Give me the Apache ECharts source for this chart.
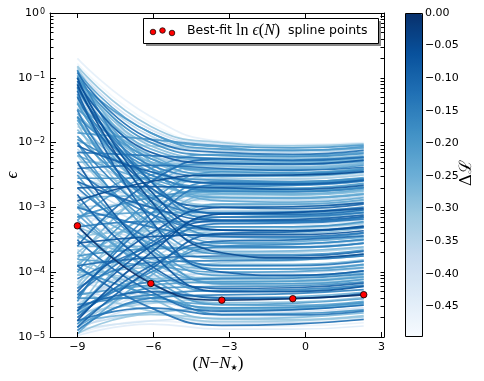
<!DOCTYPE html>
<html><head><meta charset="utf-8">
<script src="https://cdn.jsdelivr.net/npm/echarts@6/dist/echarts.min.js"></script>
<style>html,body{margin:0;padding:0;background:#fff}#c{width:484px;height:381px}</style>
</head><body><div id="c"></div>
<script>
// spline knot positions N - N_star
const knotN = [-9, -6.1, -3.3, -0.5, 2.3];
// Delta L of each curve
const deltaL = [
-0.30,-0.40,-0.22,-0.12,-0.35,-0.18,-0.28,-0.45,-0.08,-0.25,
-0.20,-0.33,-0.15,-0.27,-0.05,-0.38,-0.17,-0.24,-0.10,-0.31,
-0.21,-0.42,-0.14,-0.26,-0.19,-0.36,-0.09,-0.29,-0.16,-0.23,
-0.20,-0.32,-0.13,-0.27,-0.40,-0.18,-0.07,-0.25,-0.34,-0.22,
-0.15,-0.30,-0.44,-0.19,-0.11,-0.28,-0.37,-0.21,-0.16,-0.33,
-0.26,-0.41,-0.06,-0.23,-0.14,-0.30,-0.10,-0.35,-0.19,-0.27,
-0.12,-0.40,-0.20,-0.08,-0.25,-0.17,-0.32,-0.22,-0.13,-0.38,
-0.29,-0.05,0.00,-0.09,-0.20,-0.31,-0.15,-0.26,-0.11,-0.36,
-0.18,-0.24,-0.43,-0.07,-0.28,-0.14,-0.21,-0.34,-0.12,-0.27,
-0.30,-0.40,-0.22,-0.46,-0.35,-0.18,-0.44,-0.27,-0.38,-0.15,
-0.23,-0.33,-0.17,-0.42,-0.26,-0.20,-0.31,-0.13,-0.37,-0.24,
-0.10,-0.29,-0.47,-0.19,-0.34,-0.45,-0.48,-0.21,-0.30,-0.16,
-0.20,-0.34,-0.12,-0.27,-0.41,-0.09,-0.23,-0.30,-0.17,-0.36,
-0.14,-0.28,-0.21,-0.39,-0.11,-0.25,-0.32,-0.18,-0.07,-0.43,
-0.26,-0.15,-0.22,-0.35,-0.10,-0.29,-0.19,-0.40,-0.24,-0.13,
-0.31,-0.45,-0.20,-0.37,-0.16,-0.28,-0.33,-0.25,-0.11,-0.38,
-0.20,-0.06,-0.24,-0.14,-0.32,-0.09,-0.27,-0.42,-0.18,-0.30
];
// log10(epsilon) read at the knots, one row per curve
const log10Eps = [
[-0.82,-1.75,-2.00,-2.05,-2.02],[-0.86,-1.80,-2.03,-2.08,-2.05],[-0.90,-1.85,-2.07,-2.12,-2.08],[-0.92,-1.95,-2.15,-2.18,-2.12],
[-0.95,-1.90,-2.12,-2.15,-2.10],[-0.98,-2.00,-2.20,-2.22,-2.17],[-1.00,-2.05,-2.24,-2.25,-2.20],[-1.02,-1.95,-2.18,-2.20,-2.15],
[-1.05,-2.15,-2.32,-2.33,-2.27],[-1.08,-2.10,-2.28,-2.30,-2.24],[-1.10,-2.25,-2.42,-2.42,-2.35],[-1.12,-2.20,-2.37,-2.38,-2.31],
[-1.15,-2.35,-2.52,-2.50,-2.43],[-1.18,-2.30,-2.48,-2.47,-2.40],[-1.10,-2.90,-3.70,-3.78,-3.72],[-1.22,-2.40,-2.58,-2.57,-2.50],
[-1.25,-2.50,-2.68,-2.66,-2.58],[-1.28,-2.45,-2.62,-2.61,-2.54],[-1.30,-2.70,-3.00,-3.02,-2.95],[-1.35,-2.60,-2.78,-2.76,-2.68],
[-1.40,-2.55,-2.72,-2.71,-2.63],[-1.45,-2.75,-2.90,-2.88,-2.80],[-1.50,-2.85,-3.08,-3.07,-3.00],[-1.55,-2.30,-2.40,-2.40,-2.33],
[-1.60,-3.00,-3.30,-3.30,-3.22],[-1.15,-2.00,-2.10,-2.13,-2.09],[-1.20,-3.20,-4.00,-4.05,-3.98],[-1.70,-3.10,-3.40,-3.40,-3.32],
[-0.88,-2.60,-3.20,-3.22,-3.15],[-1.00,-2.40,-2.90,-2.92,-2.85],
[-1.85,-1.95,-2.05,-2.08,-2.04],[-2.00,-2.05,-2.10,-2.12,-2.07],[-2.15,-2.20,-2.25,-2.27,-2.22],[-2.30,-2.32,-2.36,-2.38,-2.32],
[-2.45,-2.45,-2.48,-2.49,-2.44],[-2.55,-2.55,-2.58,-2.60,-2.55],[-2.70,-2.68,-2.70,-2.72,-2.66],[-2.85,-2.82,-2.84,-2.85,-2.79],
[-3.00,-2.95,-2.96,-2.97,-2.91],[-3.15,-3.08,-3.08,-3.09,-3.03],[-3.30,-3.22,-3.22,-3.22,-3.16],[-3.45,-3.36,-3.35,-3.35,-3.29],
[-3.60,-3.50,-3.48,-3.48,-3.42],[-3.75,-3.64,-3.62,-3.62,-3.55],[-3.90,-3.78,-3.75,-3.75,-3.68],[-4.05,-3.92,-3.88,-3.88,-3.81],
[-4.20,-4.06,-4.02,-4.01,-3.94],[-4.35,-4.20,-4.15,-4.14,-4.07],[-4.50,-4.35,-4.28,-4.27,-4.20],[-4.62,-4.48,-4.42,-4.41,-4.34],
[-4.75,-4.62,-4.56,-4.55,-4.48],[-4.88,-4.75,-4.70,-4.69,-4.62],
[-4.75,-3.70,-3.10,-3.08,-3.02],[-4.60,-3.50,-2.95,-2.95,-2.88],[-4.40,-3.20,-2.65,-2.65,-2.59],[-4.20,-3.00,-2.50,-2.52,-2.46],
[-4.85,-3.95,-3.40,-3.38,-3.31],[-4.50,-3.80,-3.35,-3.33,-3.26],[-4.00,-2.90,-2.45,-2.47,-2.41],[-3.80,-2.70,-2.30,-2.32,-2.27],
[-3.60,-2.60,-2.25,-2.28,-2.23],[-3.40,-2.65,-2.40,-2.41,-2.35],[-3.20,-2.50,-2.33,-2.34,-2.29],[-4.30,-3.40,-3.00,-2.99,-2.93],
[-3.90,-3.10,-2.75,-2.75,-2.69],[-4.65,-4.00,-3.60,-3.57,-3.50],[-4.80,-4.20,-3.85,-3.82,-3.75],[-3.00,-2.40,-2.18,-2.20,-2.15],
[-4.10,-3.60,-3.25,-3.24,-3.18],[-4.45,-3.95,-3.65,-3.62,-3.56],[-3.70,-3.00,-2.70,-2.70,-2.64],[-2.90,-2.60,-2.50,-2.50,-2.45],
[-3.28,-4.17,-4.43,-4.41,-4.35],[-2.80,-3.90,-4.25,-4.24,-4.17],[-2.50,-3.60,-4.05,-4.05,-3.98],[-2.20,-3.30,-3.80,-3.80,-3.74],
[-2.00,-3.10,-3.60,-3.61,-3.55],[-3.00,-4.00,-4.40,-4.38,-4.31],[-3.50,-4.30,-4.60,-4.58,-4.51],[-2.60,-3.20,-3.50,-3.51,-3.45],
[-1.90,-2.90,-3.45,-3.47,-3.40],[-3.20,-3.85,-4.15,-4.14,-4.08],[-2.40,-3.00,-3.25,-3.26,-3.20],[-2.30,-3.70,-4.30,-4.30,-4.22],
[-3.70,-4.40,-4.72,-4.70,-4.63],[-2.70,-3.50,-3.90,-3.90,-3.83],[-3.40,-4.10,-4.50,-4.48,-4.41],[-2.10,-2.80,-3.15,-3.17,-3.11],
[-3.90,-4.55,-4.82,-4.80,-4.73],[-1.80,-2.70,-3.10,-3.12,-3.06],
[-4.95,-4.65,-4.72,-4.73,-4.67],[-4.90,-4.55,-4.62,-4.63,-4.57],[-4.85,-4.45,-4.50,-4.51,-4.45],[-4.95,-4.75,-4.82,-4.83,-4.78],
[-4.70,-4.35,-4.38,-4.38,-4.31],[-4.80,-4.25,-4.22,-4.21,-4.15],[-4.98,-4.80,-4.88,-4.88,-4.83],[-4.65,-4.10,-4.08,-4.07,-4.01],
[-4.55,-4.00,-3.95,-3.94,-3.88],[-4.90,-4.40,-4.35,-4.33,-4.27],
[-2.20,-2.60,-2.85,-2.86,-2.80],[-2.50,-2.90,-3.05,-3.05,-2.99],[-1.60,-2.40,-2.62,-2.63,-2.57],[-3.10,-3.40,-3.55,-3.55,-3.49],
[-3.60,-3.60,-3.68,-3.67,-3.61],[-2.00,-3.40,-3.95,-3.95,-3.88],[-4.00,-4.10,-4.18,-4.17,-4.11],[-3.00,-3.30,-3.45,-3.45,-3.39],
[-4.30,-4.45,-4.55,-4.54,-4.48],[-1.40,-2.20,-2.45,-2.46,-2.40],[-2.60,-3.00,-3.20,-3.20,-3.14],[-3.30,-3.70,-3.90,-3.89,-3.83],
[-1.30,-2.10,-2.30,-2.32,-2.26],[-4.40,-4.40,-4.65,-4.64,-4.58],[-1.75,-2.20,-2.35,-2.37,-2.31],[-0.70,-1.60,-1.98,-2.03,-2.00],
[-0.78,-1.70,-2.02,-2.06,-2.03],[-3.80,-3.90,-4.00,-3.99,-3.93],[-2.35,-2.75,-2.98,-2.99,-2.93],[-1.95,-2.50,-2.75,-2.76,-2.70],
[-1.05,-1.85,-2.10,-2.12,-2.06],[-1.32,-2.15,-2.30,-2.31,-2.25],[-2.40,-2.35,-2.40,-2.43,-2.38],[-1.62,-2.60,-2.80,-2.80,-2.73],
[-1.20,-2.35,-2.55,-2.55,-2.48],[-2.05,-2.45,-2.63,-2.64,-2.58],[-1.38,-2.80,-3.15,-3.15,-3.08],[-4.60,-3.30,-2.85,-2.85,-2.78],
[-4.45,-3.10,-2.60,-2.62,-2.56],[-2.65,-2.75,-2.88,-2.89,-2.83],
[-2.45,-3.10,-3.35,-3.36,-3.30],[-3.85,-3.40,-3.30,-3.30,-3.24],[-1.65,-2.95,-3.55,-3.56,-3.49],[-3.25,-3.50,-3.62,-3.62,-3.56],
[-4.70,-3.90,-3.52,-3.50,-3.44],[-2.95,-3.55,-3.78,-3.78,-3.72],[-4.15,-3.75,-3.70,-3.69,-3.63],[-2.15,-3.25,-3.72,-3.73,-3.66],
[-3.55,-3.45,-3.42,-3.42,-3.36],[-2.75,-3.30,-3.58,-3.58,-3.52],[-3.45,-3.80,-3.95,-3.95,-3.89],[-4.25,-3.85,-3.82,-3.81,-3.75],
[-3.10,-3.95,-4.30,-4.29,-4.22],[-3.65,-4.20,-4.42,-4.41,-4.35],[-4.55,-4.30,-4.40,-4.40,-4.33],[-2.90,-3.75,-4.12,-4.12,-4.05],
[-3.95,-4.35,-4.55,-4.54,-4.47],[-4.15,-4.40,-4.62,-4.61,-4.55],[-3.30,-4.15,-4.58,-4.57,-4.50],[-4.75,-4.55,-4.66,-4.66,-4.60],
[-4.30,-4.60,-4.76,-4.75,-4.69],[-4.10,-4.55,-4.80,-4.79,-4.72],[-2.60,-3.65,-4.18,-4.18,-4.11],[-4.85,-4.65,-4.78,-4.78,-4.72],
[-4.60,-4.15,-4.10,-4.09,-4.03],[-3.85,-4.25,-4.47,-4.46,-4.39],
[-0.84,-2.20,-2.65,-2.66,-2.60],[-0.96,-2.30,-2.78,-2.79,-2.72],[-1.14,-2.60,-3.10,-3.11,-3.04],[-1.26,-2.10,-2.27,-2.29,-2.23],
[-1.48,-2.25,-2.50,-2.51,-2.45],[-1.00,-2.75,-3.35,-3.36,-3.29],
[-4.95,-4.05,-3.55,-3.53,-3.46],[-4.35,-3.55,-3.15,-3.14,-3.08],[-3.50,-2.80,-2.55,-2.56,-2.50],[-4.60,-3.60,-3.20,-3.19,-3.12],
[-4.25,-3.25,-2.80,-2.81,-2.75],[-4.75,-4.30,-4.00,-3.99,-3.92],[-3.15,-2.85,-2.75,-2.75,-2.69],[-4.05,-3.30,-2.95,-2.95,-2.89]
];
// best-fit spline points
const bestFitN = [-9, -6.1, -3.3, -0.5, 2.3];
const bestFitEps = [5.2e-4, 6.7e-5, 3.7e-5, 3.9e-5, 4.5e-5];
// ticks
const xTicks = [-9, -6, -3, 0, 3];
const yDecades = [-5, -4, -3, -2, -1, 0];
const cbTicks = [0, -0.05, -0.10, -0.15, -0.20, -0.25, -0.30, -0.35, -0.40, -0.45];
const cbMin = -0.497, cbMax = 0;
const blues = ['#f7fbff','#deebf7','#c6dbef','#9ecae1','#6baed6','#4292c6','#2171b5','#08519c','#08306b'];

// tick positions in log10 units: decades plus the 2..9 minor ticks
const allY = [];
for (let e = -5; e <= 0; e++) { allY.push(e); if (e < 0) for (let k = 2; k <= 9; k++) allY.push(e + Math.log10(k)); }

const minus = s => String(s).replace('-', '\u2212');
const GL = 50, GT = 13, GW = 334, GH = 324;
const tickFont = 'DejaVu Sans';

const order = deltaL.map((d, i) => i).sort((a, b) => deltaL[a] - deltaL[b]);
const series = order.map(i => ({
  type: 'line', xAxisIndex: 0, yAxisIndex: 0, smooth: true, symbol: 'none', silent: true,
  lineStyle: { width: 1.7, opacity: 0.9, color: echarts.color.lerp((deltaL[i] - cbMin) / (cbMax - cbMin), blues) },
  data: knotN.map((n, k) => [n, Math.pow(10, log10Eps[i][k])]),
  z: 2
}));
series.push({
  type: 'scatter', xAxisIndex: 0, yAxisIndex: 0, symbolSize: 6.5, silent: true, z: 10,
  itemStyle: { color: '#ff0000', borderColor: '#000', borderWidth: 0.8, opacity: 1 },
  data: bestFitN.map((n, k) => [n, bestFitEps[k]])
});
series.push({ type: 'scatter', xAxisIndex: 2, yAxisIndex: 4, data: [] });
const dummyIdx = series.length - 1;

const tickStyle = { color: '#000', width: 1 };
const baseX = {
  type: 'value', gridIndex: 0, min: -10.08, max: 3.1, z: 10,
  splitLine: { show: false },
  axisLine: { show: true, onZero: false, lineStyle: tickStyle },
  axisTick: { show: true, inside: true, length: 5, customValues: xTicks, lineStyle: tickStyle }
};
const baseYv = {
  type: 'value', gridIndex: 0, min: -5, max: 0, interval: 1, z: 10,
  splitLine: { show: false }
};

const option = {
  animation: false,
  backgroundColor: '#fff',
  grid: [
    { left: GL, top: GT, width: GW, height: GH },
    { left: 405, top: 13, width: 17, height: 324 }
  ],
  xAxis: [
    Object.assign({}, baseX, { position: 'bottom',
      axisLabel: { customValues: xTicks, formatter: v => minus(v), color: '#000', fontSize: 11, fontFamily: tickFont, margin: 5 } }),
    Object.assign({}, baseX, { position: 'top', axisLabel: { show: false } }),
    { type: 'value', gridIndex: 1, show: false, min: 0, max: 1 }
  ],
  yAxis: [
    { type: 'log', logBase: 10, gridIndex: 0, min: 1e-5, max: 1, show: false },
    Object.assign({}, baseYv, { position: 'left',
      axisLine: { show: true, onZero: false, lineStyle: tickStyle },
      axisTick: { show: true, inside: true, length: 3.5, customValues: allY, lineStyle: tickStyle },
      axisLabel: { customValues: yDecades, margin: 5, formatter: v => '{b|10}{s|' + minus(v) + '}',
        rich: { b: { fontSize: 11, fontFamily: tickFont, color: '#000', lineHeight: 11, verticalAlign: 'bottom' },
                s: { fontSize: 8, fontFamily: tickFont, color: '#000', lineHeight: 8, verticalAlign: 'top', padding: [0, 0, 6, 1] } } } }),
    Object.assign({}, baseYv, { position: 'right', axisLabel: { show: false },
      axisLine: { show: true, onZero: false, lineStyle: tickStyle },
      axisTick: { show: true, inside: true, length: 3.5, customValues: allY, lineStyle: tickStyle } }),
    { type: 'value', gridIndex: 0, min: -5, max: 0, position: 'left', offset: 0, z: 10, splitLine: { show: false },
      axisLine: { show: false, onZero: false }, axisLabel: { show: false },
      axisTick: { show: true, inside: true, length: 6, customValues: yDecades, lineStyle: tickStyle } },
    { type: 'value', gridIndex: 1, min: cbMin, max: cbMax, position: 'right',
      splitLine: { show: false }, axisLine: { show: false, onZero: false },
      axisTick: { show: true, inside: true, length: 4, customValues: cbTicks, lineStyle: tickStyle },
      axisLabel: { customValues: cbTicks, margin: 3, color: '#000', fontSize: 11, fontFamily: tickFont,
        formatter: v => minus(v.toFixed(2)) } }
  ],
  visualMap: [{
    type: 'continuous', min: cbMin, max: cbMax, seriesIndex: dummyIdx, dimension: 1,
    inRange: { color: blues }, orient: 'vertical', left: 405, top: 13,
    itemWidth: 17, itemHeight: 324, calculable: false, text: null, showLabel: false,
    padding: 0, hoverLink: false
  }],
  graphic: [
    { type: 'rect', z: 100, shape: { x: 405.5, y: 13.5, width: 17, height: 323 }, style: { fill: 'none', stroke: '#000', lineWidth: 1 } },
    { type: 'rect', z: 100, shape: { x: 146, y: 21, width: 235, height: 25 }, style: { fill: '#888' } },
    { type: 'rect', z: 101, shape: { x: 143.5, y: 18.5, width: 235, height: 25 }, style: { fill: '#fff', stroke: '#000', lineWidth: 1 } },
    { type: 'circle', z: 102, shape: { cx: 153, cy: 32, r: 2.8 }, style: { fill: '#ff0000', stroke: '#000', lineWidth: 0.7 } },
    { type: 'circle', z: 102, shape: { cx: 162.5, cy: 30.5, r: 2.8 }, style: { fill: '#ff0000', stroke: '#000', lineWidth: 0.7 } },
    { type: 'circle', z: 102, shape: { cx: 172, cy: 33, r: 2.8 }, style: { fill: '#ff0000', stroke: '#000', lineWidth: 0.7 } },
    { type: 'text', z: 102, x: 187, y: 31, style: {
        text: '{a|Best-fit }{m|ln }{i|\u03f5}{m|(}{i|N}{m|)}{a|  spline points}',
        verticalAlign: 'middle',
        rich: { a: { fontSize: 12.5, fontFamily: tickFont, fill: '#000' },
                m: { fontSize: 16, fontFamily: 'Liberation Serif', fill: '#000' },
                i: { fontSize: 16, fontFamily: 'Liberation Serif', fontStyle: 'italic', fill: '#000' } } } },
    { type: 'text', x: 13, y: 175, rotation: Math.PI / 2, style: {
        text: '\u03f5', fontSize: 17, fontFamily: 'Liberation Serif', fontStyle: 'italic', fill: '#000',
        align: 'center', verticalAlign: 'middle' } },
    { type: 'text', x: 218, y: 362, style: {
        text: '{r|(}{i|N}{r|\u2212}{i|N}{u|\u2605}{r|)}', align: 'center', verticalAlign: 'middle',
        rich: { r: { fontSize: 17, fontFamily: 'Liberation Serif', fill: '#000', lineHeight: 20, verticalAlign: 'bottom' },
                i: { fontSize: 17, fontFamily: 'Liberation Serif', fontStyle: 'italic', fill: '#000', lineHeight: 20, verticalAlign: 'bottom' },
                u: { fontSize: 8, fontFamily: 'DejaVu Sans', fill: '#000', lineHeight: 8, verticalAlign: 'bottom' } } } },
    { type: 'text', x: 467, y: 173, rotation: Math.PI / 2, style: {
        text: '\u0394\u2112', fontSize: 17, fontFamily: 'DejaVu Serif', fill: '#000',
        align: 'center', verticalAlign: 'middle' } }
  ],
  series: series
};
const chart = echarts.init(document.getElementById('c'), null, { renderer: 'canvas' });
chart.setOption(option);
</script></body></html>
